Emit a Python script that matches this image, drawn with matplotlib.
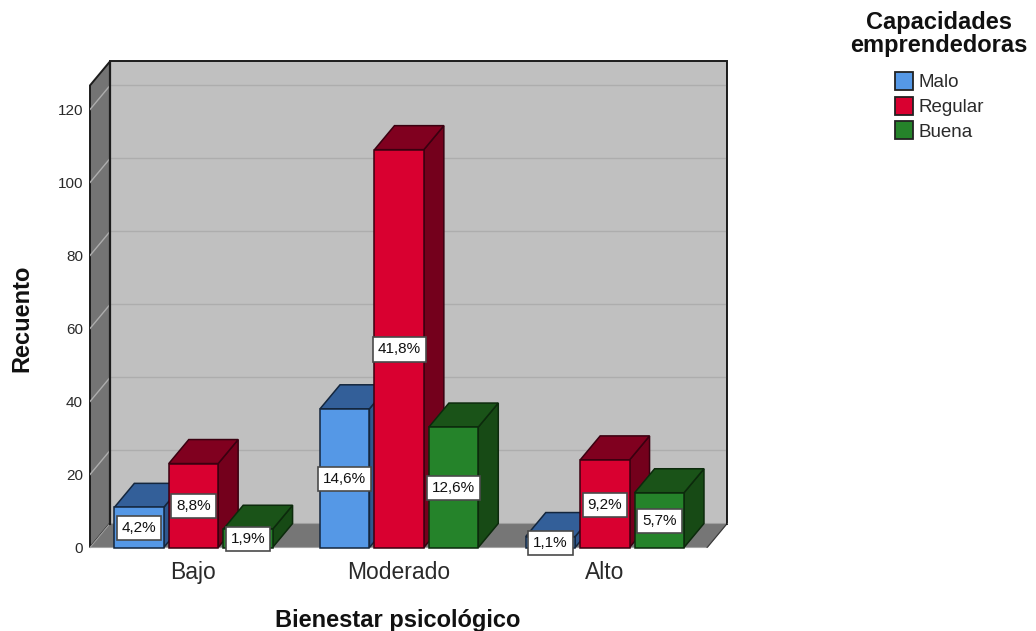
import matplotlib
matplotlib.use('Agg')
import numpy as np
import matplotlib.pyplot as plt
from matplotlib.patches import Polygon, Patch

plt.rcParams['font.family'] = ['Liberation Sans', 'DejaVu Sans']

categories = ['Bajo', 'Moderado', 'Alto']
series_names = ['Malo', 'Regular', 'Buena']
counts = [
    [11, 38, 3],
    [23, 109, 24],
    [5, 33, 15],
]
percents = [
    ['4,2%', '14,6%', '1,1%'],
    ['8,8%', '41,8%', '9,2%'],
    ['1,9%', '12,6%', '5,7%'],
]
y_ticks = [0, 20, 40, 60, 80, 100, 120]

front_colors = ['#5598e6', '#d90030', '#25832a']
top_colors = ['#335f99', '#80001f', '#1a5318']
side_colors = ['#2f588e', '#74001c', '#174a15']
edge_colors = ['#14263d', '#3a0010', '#0c2a0c']

W, H = 1036, 631
DEPTH_X = 0.0972
DEPTH_Y = 6.575
BAR_W = 0.24
BAR_STEP = 0.2646
Y_TOP = 126.6
X_LEFT = -0.503
X_RIGHT = 2.497


def add_poly(ax, pts, fc, ec, lw=1.2, z=1):
    ax.add_patch(Polygon(pts, closed=True, facecolor=fc, edgecolor=ec, linewidth=lw,
                         joinstyle='miter', zorder=z, clip_on=False))


def draw_walls(ax):
    # back wall, left wall and floor
    add_poly(ax, [(X_LEFT + DEPTH_X, DEPTH_Y), (X_RIGHT + DEPTH_X, DEPTH_Y),
                  (X_RIGHT + DEPTH_X, Y_TOP + DEPTH_Y), (X_LEFT + DEPTH_X, Y_TOP + DEPTH_Y)],
             '#c0c0c0', '#1c1c1c', 1.4)
    add_poly(ax, [(X_LEFT, 0), (X_LEFT + DEPTH_X, DEPTH_Y),
                  (X_LEFT + DEPTH_X, Y_TOP + DEPTH_Y), (X_LEFT, Y_TOP)],
             '#747474', '#1c1c1c', 1.4, 2)
    add_poly(ax, [(X_LEFT, 0), (X_RIGHT, 0), (X_RIGHT + DEPTH_X, DEPTH_Y),
                  (X_LEFT + DEPTH_X, DEPTH_Y)],
             '#767676', '#a0a0a0', 0.8, 2.5)
    ax.plot([X_RIGHT, X_RIGHT + DEPTH_X], [0, DEPTH_Y], color='#3a3a3a', lw=0.9, zorder=2.6)
    ax.plot([X_LEFT, X_RIGHT], [0, 0], color='#b8b8b8', lw=1.0, zorder=2.6)
    for t in y_ticks[1:]:
        ax.plot([X_LEFT, X_LEFT + DEPTH_X, X_RIGHT + DEPTH_X], [t, t + DEPTH_Y, t + DEPTH_Y],
                color='#adadad', lw=1.0, zorder=3)
    # wall edges go back on top of the grid
    ax.plot([X_LEFT + DEPTH_X] * 2, [DEPTH_Y, Y_TOP + DEPTH_Y], color='#1c1c1c', lw=1.6, zorder=3.5)
    ax.plot([X_RIGHT + DEPTH_X] * 2, [DEPTH_Y, Y_TOP + DEPTH_Y], color='#1c1c1c', lw=1.4, zorder=3.5)


def draw_bar(ax, xc, val, k, z):
    x0, x1 = xc - BAR_W / 2, xc + BAR_W / 2
    ec = edge_colors[k]
    add_poly(ax, [(x1, 0), (x1 + DEPTH_X, DEPTH_Y), (x1 + DEPTH_X, val + DEPTH_Y), (x1, val)],
             side_colors[k], ec, 1.1, z)
    add_poly(ax, [(x0, val), (x1, val), (x1 + DEPTH_X, val + DEPTH_Y), (x0 + DEPTH_X, val + DEPTH_Y)],
             top_colors[k], ec, 1.1, z)
    add_poly(ax, [(x0, 0), (x1, 0), (x1, val), (x0, val)], front_colors[k], ec, 1.1, z + 0.1)


fig = plt.figure(figsize=(W / 100, H / 100), dpi=100)
ax = fig.add_axes([90 / W, 1 - 547.5 / H, 637 / W, 485.5 / H])
ax.set_xlim(X_LEFT, X_LEFT + 637 / 205.7)
ax.set_ylim(0, 485.5 / 3.65)
for s in ax.spines.values():
    s.set_visible(False)

draw_walls(ax)

z = 5
for c in range(len(categories)):
    for k in range(len(series_names)):
        xc = c + (k - 1) * BAR_STEP
        draw_bar(ax, xc, counts[k][c], k, z)
        ax.text(xc, counts[k][c] / 2 - 0.25, percents[k][c], ha='center', va='center',
                fontsize=11, color='#111111', zorder=50,
                bbox=dict(boxstyle='square,pad=0.33', fc='white', ec='#4a4a4a', lw=1.2))
        z += 1

ax.set_xticks(range(len(categories)))
ax.set_xticklabels(categories, fontsize=16.5, color='#2a2a2a')
ax.set_yticks(y_ticks)
ax.set_yticklabels([str(t) for t in y_ticks], fontsize=11, color='#2a2a2a')
ax.tick_params(axis='both', length=0)
ax.tick_params(axis='x', pad=10)
ax.tick_params(axis='y', pad=5)

fig.text(398 / W, 1 - 620 / H, 'Bienestar psicológico', ha='center', va='center',
         fontsize=17, fontweight='bold', color='#111111')
fig.text(22 / W, 1 - 318 / H, 'Recuento', ha='center', va='center', rotation=90,
         fontsize=17, fontweight='bold', color='#111111')
fig.text(939 / W, 1 - 34 / H, 'Capacidades\nemprendedoras', ha='center', va='center',
         fontsize=17, fontweight='bold', color='#111111', linespacing=1.02)

handles = [Patch(facecolor=front_colors[i], edgecolor='#222222', linewidth=1.3, label=series_names[i])
           for i in range(len(series_names))]
fig.legend(handles=handles, loc='upper left', bbox_to_anchor=(895 / W, 1 - 72 / H), frameon=False,
           fontsize=13.5, handlelength=0.96, handleheight=1.1, handletextpad=0.27, labelspacing=0.28,
           borderpad=0, borderaxespad=0, labelcolor='#2a2a2a')

fig.savefig('out.png', dpi=100, facecolor='white')
